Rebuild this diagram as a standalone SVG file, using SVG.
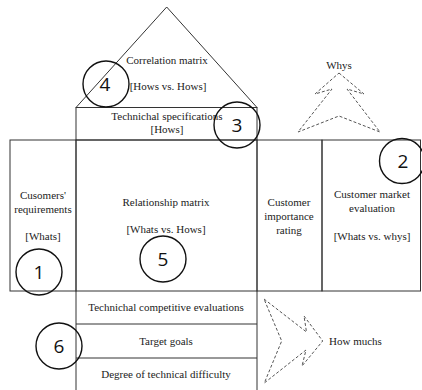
<svg xmlns="http://www.w3.org/2000/svg" width="422" height="390" viewBox="0 0 422 390">
<style>
.ln{fill:none;stroke:#333;stroke-width:1}
.t{font-family:"Liberation Serif","Times New Roman",serif;font-size:11px;fill:#222;text-anchor:middle}
.tl{font-family:"Liberation Serif","Times New Roman",serif;font-size:11px;fill:#222}
.c{fill:none;stroke:#111;stroke-width:1.4}
.n{font-family:"Open Sans","Liberation Sans",sans-serif;font-size:19px;fill:#111;text-anchor:middle}
.d{fill:none;stroke:#555;stroke-width:1;stroke-dasharray:3 2}
</style>
<rect width="422" height="390" fill="#fff"/>
<g id="roof">
<path class="ln" d="M76,107.5 L166.7,7 L257,107.5"/>
<text class="t" x="167" y="64">Correlation matrix</text>
<text class="t" x="168" y="90">[Hows vs. Hows]</text>
</g>
<g id="tech-spec">
<rect class="ln" x="76" y="107.5" width="181" height="32.5"/>
<text class="t" x="167" y="120">Technichal specifications</text>
<text class="t" x="167" y="133">[Hows]</text>
</g>
<g id="customer-requirements">
<rect class="ln" x="10" y="140" width="66" height="151"/>
<text class="t" x="43" y="199">Cusomers'</text>
<text class="t" x="43" y="213">requirements</text>
<text class="t" x="43" y="240">[Whats]</text>
</g>
<g id="relationship-matrix">
<rect class="ln" x="76" y="140" width="181" height="151"/>
<text class="t" x="166" y="206">Relationship matrix</text>
<text class="t" x="166" y="233">[Whats vs. Hows]</text>
</g>
<g id="importance-rating">
<rect class="ln" x="257" y="140" width="65" height="151"/>
<text class="t" x="289" y="206">Customer</text>
<text class="t" x="289" y="220">importance</text>
<text class="t" x="289" y="234">rating</text>
</g>
<g id="market-evaluation">
<rect class="ln" x="322" y="140" width="98.5" height="151"/>
<text class="t" x="372" y="198">Customer market</text>
<text class="t" x="372" y="212">evaluation</text>
<text class="t" x="372" y="240">[Whats vs. whys]</text>
</g>
<g id="competitive-evaluations">
<path class="ln" d="M76,291 V324 M257,291 V324 M76,324 H257"/>
<text class="t" x="166" y="311">Technichal competitive evaluations</text>
</g>
<g id="target-goals">
<path class="ln" d="M76,324 V358 M257,324 V358 M76,358 H257"/>
<text class="t" x="166" y="345">Target goals</text>
</g>
<g id="technical-difficulty">
<path class="ln" d="M76,358 V390 M257,358 V390"/>
<text class="t" x="166" y="378">Degree of technical difficulty</text>
</g>
<g id="whys">
<polygon class="d" points="339,73 364,94 347,89 380,132 339,116 298,132 332,89 315,94"/>
<text class="t" x="339" y="69">Whys</text>
</g>
<g id="how-muchs">
<polygon class="d" points="264,299 306.5,332 304,316 322.7,341 302,366 306,350 264.3,383 281.7,341"/>
<text class="tl" x="329" y="345">How muchs</text>
</g>
<g id="markers">
<g id="m1"><circle class="c" cx="39" cy="272" r="23"/><text class="n" x="39" y="279">1</text></g>
<g id="m2"><circle class="c" cx="402" cy="161" r="22.5"/><text class="n" x="403" y="168">2</text></g>
<g id="m3"><circle class="c" cx="237" cy="125" r="23"/><text class="n" x="237" y="132">3</text></g>
<g id="m4"><circle class="c" cx="106" cy="84" r="23"/><text class="n" x="105" y="91">4</text></g>
<g id="m5"><circle class="c" cx="163" cy="259" r="23"/><text class="n" x="163" y="266">5</text></g>
<g id="m6"><circle class="c" cx="59" cy="346" r="23"/><text class="n" x="59" y="353">6</text></g>
</g>
<g id="connectors"/>
</svg>
